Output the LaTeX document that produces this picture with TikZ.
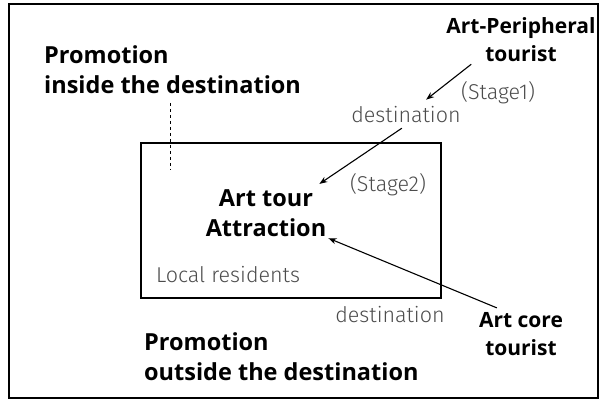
\documentclass[tikz,border=0pt]{standalone}
\usepackage{fontspec}
\setmainfont{Open Sans}
\newfontfamily\lightsans{Fira Sans Light}
\usetikzlibrary{arrows.meta}
\begin{document}
\begin{tikzpicture}[x=1pt, y=-1pt,
  bigtext/.style={font=\fontsize{23.5}{30}\selectfont\bfseries, inner sep=2pt},
  boldtext/.style={font=\fontsize{21}{28}\selectfont\bfseries, inner sep=2pt},
  graytext/.style={font=\fontsize{21.5}{24}\selectfont\lightsans, text=black!70, inner sep=2pt},
  pointer/.style={-{Stealth[length=8pt,width=6pt]}, line width=1.1pt}]
  \useasboundingbox (0, 0) rectangle (605, 403);
  \draw[line width=1.6pt] (9, 4) rectangle (598, 398);
  \draw[line width=2.4pt] (141, 143) rectangle (441, 298);
  \draw[dashed, line width=0.7pt] (170, 103) -- (170, 170);

  \node[bigtext, align=left, anchor=west] (promin) at (42, 70) {Promotion\\inside the destination};
  \node[bigtext, align=left, anchor=west] (promout) at (142, 357) {Promotion\\outside the destination};
  \node[boldtext, align=center] (peri) at (521, 40) {Art-Peripheral\\tourist};
  \node[bigtext, align=center] (attr) at (266, 213) {Art tour\\Attraction};
  \node[boldtext, align=center] (core) at (521, 334) {Art core\\tourist};

  \node[graytext] (stage1) at (498, 93) {(Stage1)};
  \node[graytext] (destin) at (406, 115) {destination};
  \node[graytext] (stage2) at (388, 185) {(Stage2)};
  \node[graytext] (locals) at (228, 275) {Local residents};
  \node[graytext] (destout) at (390, 315) {destination};

  \draw[pointer, shorten >=8pt] (peri.206) -- (destin.37);
  \draw[pointer, shorten <=5pt, shorten >=6pt] (destin.south) -- (attr.28);
  \draw[pointer, shorten <=6pt] (core.128) -- (attr.-22);
\end{tikzpicture}
\end{document}
